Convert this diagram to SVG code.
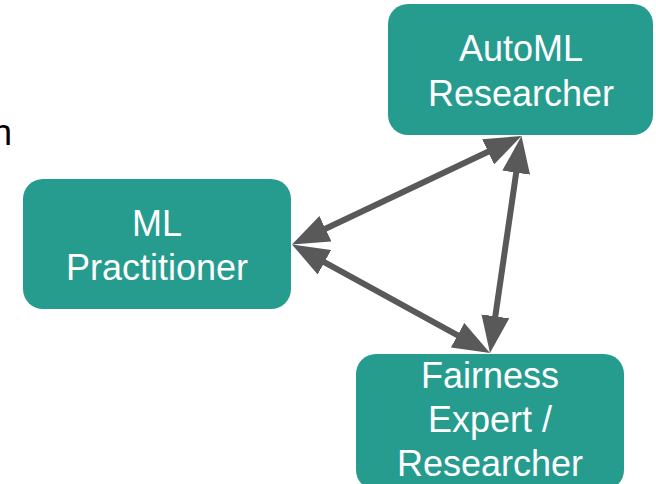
<svg xmlns="http://www.w3.org/2000/svg" width="656" height="484" viewBox="0 0 656 484">
  <defs>
    <style>
      .box { fill: #269C8F; }
      .lbl { font-family: "Liberation Sans", Arial, sans-serif; font-size: 36px; fill: #ffffff; text-anchor: middle; }
      .conn { stroke: #595959; stroke-width: 6; fill: none; marker-start: url(#arr); marker-end: url(#arr); }
    </style>
    <marker id="arr" markerUnits="userSpaceOnUse" viewBox="0 0 37 28" markerWidth="37" markerHeight="28" refX="7" refY="14" orient="auto-start-reverse">
      <path d="M0,0 L37,14 L0,28 Z" fill="#595959"/>
    </marker>
  </defs>
  <rect width="656" height="484" fill="#ffffff"/>
  <text x="-8" y="145" font-family="Liberation Sans, Arial, sans-serif" font-size="36" fill="#000000">n</text>
  <g id="automl-researcher">
    <rect class="box" x="388" y="4" width="265" height="131" rx="20" ry="20"/>
    <text class="lbl" x="521" y="61">AutoML</text>
    <text class="lbl" x="521" y="106">Researcher</text>
  </g>
  <g id="ml-practitioner">
    <rect class="box" x="23" y="179" width="268" height="130" rx="20" ry="20"/>
    <text class="lbl" x="157" y="236">ML</text>
    <text class="lbl" x="157" y="280">Practitioner</text>
  </g>
  <g id="fairness-expert">
    <rect class="box" x="356" y="354" width="268" height="136" rx="20" ry="20"/>
    <text class="lbl" x="490" y="388">Fairness</text>
    <text class="lbl" x="490" y="432">Expert /</text>
    <text class="lbl" x="490" y="476">Researcher</text>
  </g>
  <g id="connectors">
    <line class="conn" x1="319.1" y1="231.7" x2="494.4" y2="148.8"/>
    <line class="conn" x1="318.3" y1="258.9" x2="463.7" y2="338.6"/>
    <line class="conn" x1="517.2" y1="165.7" x2="494.3" y2="323.3"/>
  </g>
</svg>
